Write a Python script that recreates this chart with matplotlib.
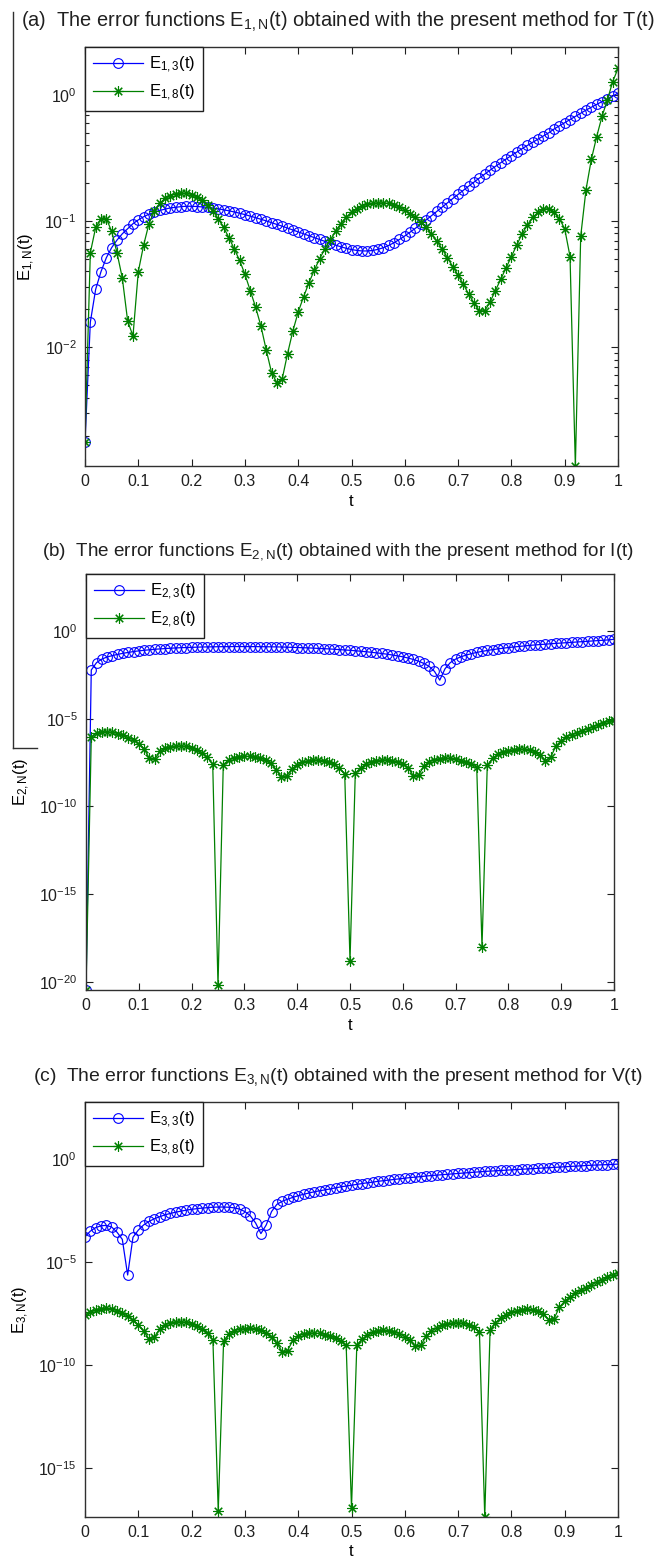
import matplotlib
matplotlib.use("Agg")
import matplotlib.pyplot as plt
from matplotlib.ticker import FixedLocator, NullLocator, LogLocator, LogFormatterSciNotation
from matplotlib.lines import Line2D
import numpy as np

plt.rcParams["font.family"] = ["Liberation Sans", "DejaVu Sans"]
plt.rcParams["mathtext.fontset"] = "custom"
plt.rcParams["mathtext.rm"] = "Liberation Sans"
plt.rcParams["mathtext.it"] = "Liberation Sans"
plt.rcParams["mathtext.bf"] = "Liberation Sans:bold"

# t grid, step 0.01
t = np.linspace(0, 1, 101)

# all series given as log10(E)
# (a) T(t)
e13 = [-2.75, -1.80, -1.54, -1.40, -1.29, -1.21, -1.15, -1.10, -1.06, -1.02,
       -0.99, -0.965, -0.945, -0.93, -0.915, -0.905, -0.895, -0.89, -0.885, -0.882,
       -0.882, -0.884, -0.887, -0.891, -0.896, -0.902, -0.91, -0.918, -0.927, -0.937,
       -0.948, -0.96, -0.972, -0.985, -0.998, -1.012, -1.026, -1.04, -1.055, -1.07,
       -1.085, -1.10, -1.115, -1.13, -1.145, -1.16, -1.175, -1.19, -1.203, -1.215,
       -1.225, -1.232, -1.236, -1.236, -1.232, -1.223, -1.21, -1.192, -1.17, -1.145,
       -1.117, -1.087, -1.056, -1.024, -0.99, -0.957, -0.923, -0.889, -0.855, -0.821,
       -0.788, -0.755, -0.722, -0.69, -0.658, -0.627, -0.596, -0.566, -0.537, -0.508,
       -0.48, -0.453, -0.426, -0.40, -0.375, -0.35, -0.325, -0.30, -0.27, -0.245,
       -0.22, -0.195, -0.17, -0.145, -0.12, -0.097, -0.075, -0.053, -0.032, -0.01,
       0.015]
e18 = [-2.75, -1.25, -1.05, -0.98, -0.98, -1.08, -1.25, -1.45, -1.79, -1.91,
       -1.40, -1.19, -1.02, -0.92, -0.86, -0.82, -0.80, -0.785, -0.78, -0.78,
       -0.79, -0.81, -0.83, -0.87, -0.92, -0.98, -1.05, -1.13, -1.22, -1.31,
       -1.42, -1.55, -1.68, -1.83, -2.02, -2.20, -2.28, -2.25, -2.05, -1.87,
       -1.72, -1.60, -1.49, -1.39, -1.30, -1.22, -1.15, -1.08, -1.02, -0.97,
       -0.93, -0.90, -0.88, -0.865, -0.86, -0.855, -0.855, -0.86, -0.87, -0.89,
       -0.91, -0.94, -0.97, -1.01, -1.05, -1.10, -1.16, -1.22, -1.29, -1.36,
       -1.43, -1.50, -1.58, -1.65, -1.71, -1.71, -1.64, -1.55, -1.46, -1.37,
       -1.28, -1.19, -1.10, -1.03, -0.97, -0.93, -0.905, -0.90, -0.93, -0.98,
       -1.06, -1.28, -2.94, -1.12, -0.75, -0.51, -0.33, -0.17, -0.04, 0.105,
       0.21]

# (b) I(t)
e23 = [-20.46, -2.22, -1.80, -1.60, -1.48, -1.40, -1.33, -1.27, -1.22, -1.17,
       -1.13, -1.10, -1.07, -1.04, -1.02, -1.00, -0.98, -0.965, -0.95, -0.94,
       -0.93, -0.92, -0.91, -0.905, -0.90, -0.895, -0.89, -0.89, -0.885, -0.885,
       -0.885, -0.885, -0.89, -0.89, -0.895, -0.90, -0.905, -0.91, -0.92, -0.93,
       -0.94, -0.95, -0.96, -0.975, -0.99, -1.005, -1.02, -1.04, -1.06, -1.08,
       -1.10, -1.125, -1.15, -1.18, -1.21, -1.245, -1.28, -1.32, -1.365, -1.415,
       -1.47, -1.54, -1.62, -1.72, -1.85, -2.02, -2.30, -2.80, -2.15, -1.80,
       -1.60, -1.47, -1.37, -1.29, -1.22, -1.16, -1.11, -1.06, -1.02, -0.98,
       -0.94, -0.91, -0.88, -0.85, -0.82, -0.795, -0.77, -0.75, -0.725, -0.705,
       -0.685, -0.665, -0.645, -0.625, -0.605, -0.585, -0.565, -0.545, -0.525, -0.505,
       -0.47]
e28 = [-20.46, -6.05, -5.80, -5.74, -5.74, -5.78, -5.85, -5.95, -6.07, -6.22,
       -6.42, -6.72, -7.25, -7.30, -6.85, -6.68, -6.60, -6.56, -6.55, -6.58,
       -6.66, -6.78, -6.95, -7.20, -7.60, -20.2, -7.62, -7.35, -7.22, -7.16,
       -7.14, -7.14, -7.17, -7.24, -7.36, -7.55, -7.90, -8.30, -8.25, -7.85,
       -7.62, -7.48, -7.40, -7.36, -7.35, -7.38, -7.46, -7.60, -7.82, -8.15,
       -18.8, -8.12, -7.80, -7.58, -7.45, -7.38, -7.35, -7.35, -7.38, -7.45,
       -7.58, -7.78, -8.25, -8.20, -7.70, -7.45, -7.33, -7.27, -7.25, -7.26,
       -7.30, -7.38, -7.48, -7.60, -7.75, -18.0, -7.65, -7.25, -7.03, -6.90,
       -6.82, -6.76, -6.74, -6.74, -6.78, -6.88, -7.05, -7.38, -7.20, -6.55,
       -6.25, -6.05, -5.90, -5.80, -5.70, -5.58, -5.46, -5.35, -5.25, -5.15,
       -5.07]

# (c) V(t)
e33 = [-3.77, -3.50, -3.33, -3.24, -3.22, -3.30, -3.55, -3.90, -5.63, -3.80,
       -3.45, -3.20, -3.03, -2.90, -2.80, -2.71, -2.64, -2.58, -2.53, -2.48,
       -2.44, -2.41, -2.38, -2.36, -2.34, -2.33, -2.33, -2.34, -2.37, -2.43,
       -2.55, -2.75, -3.10, -3.62, -3.20, -2.55, -2.20, -2.05, -1.95, -1.86,
       -1.78, -1.71, -1.65, -1.59, -1.54, -1.50, -1.45, -1.40, -1.35, -1.31,
       -1.27, -1.23, -1.19, -1.15, -1.12, -1.08, -1.05, -1.02, -0.99, -0.96,
       -0.93, -0.90, -0.875, -0.85, -0.825, -0.80, -0.78, -0.76, -0.74, -0.72,
       -0.70, -0.68, -0.66, -0.64, -0.62, -0.60, -0.585, -0.57, -0.555, -0.54,
       -0.525, -0.51, -0.495, -0.48, -0.465, -0.45, -0.435, -0.42, -0.405, -0.39,
       -0.375, -0.36, -0.345, -0.33, -0.315, -0.30, -0.29, -0.28, -0.27, -0.26,
       -0.245]
e38 = [-7.57, -7.45, -7.34, -7.27, -7.25, -7.28, -7.36, -7.48, -7.63, -7.82,
       -8.05, -8.35, -8.75, -8.65, -8.25, -8.05, -7.95, -7.90, -7.90, -7.93,
       -8.00, -8.10, -8.25, -8.45, -8.80, -17.09, -8.85, -8.50, -8.35, -8.27,
       -8.23, -8.22, -8.25, -8.32, -8.45, -8.65, -8.95, -9.35, -9.30, -8.80,
       -8.60, -8.50, -8.46, -8.45, -8.47, -8.52, -8.60, -8.70, -8.85, -9.05,
       -16.93, -9.03, -8.75, -8.55, -8.42, -8.35, -8.32, -8.33, -8.38, -8.48,
       -8.62, -8.80, -9.10, -9.05, -8.60, -8.35, -8.20, -8.08, -8.00, -7.96,
       -7.95, -7.98, -8.05, -8.17, -8.38, -17.38, -8.30, -7.95, -7.72, -7.57,
       -7.45, -7.37, -7.32, -7.30, -7.32, -7.38, -7.50, -7.80, -7.75, -7.20,
       -6.90, -6.70, -6.52, -6.38, -6.25, -6.10, -5.98, -5.86, -5.75, -5.63,
       -5.52]

xticks = [0, 0.1, 0.2, 0.3, 0.4, 0.5, 0.6, 0.7, 0.8, 0.9, 1]
xticklabels = ['0', '0.1', '0.2', '0.3', '0.4', '0.5', '0.6', '0.7', '0.8', '0.9', '1']

panels = [
    # idx, title, blue, green, ylim exponents, y ticks, minor ticks, box px, title baseline, title size
    ('1', r'(a)  The error functions E$_{1,N}$(t) obtained with the present method for T(t)',
     e13, e18, (-2.94, 0.38), [1e-2, 1e-1, 1e0], True,
     [85, 47, 618, 466], 27, 14.4),
    ('2', r'(b)  The error functions E$_{2,N}$(t) obtained with the present method for I(t)',
     e23, e28, (-20.46, 3.25), [1e-20, 1e-15, 1e-10, 1e-5, 1e0], False,
     [86, 574, 614, 990], 555, 13.6),
    ('3', r'(c)  The error functions E$_{3,N}$(t) obtained with the present method for V(t)',
     e33, e38, (-17.38, 2.77), [1e-15, 1e-10, 1e-5, 1e0], False,
     [85, 1102, 618, 1517], 1081, 13.9),
]

W, H = 660, 1558
fig = plt.figure(figsize=(W / 100, H / 100), dpi=100)

blue = (0, 0, 1)
green = (0, 0.5, 0)
star = (8, 2, 0)

for k, title, eb, eg, ylim, yt, minor, box, ty, tsize in panels:
    l, tp, r, b = box
    ax = fig.add_axes([l / W, 1 - b / H, (r - l) / W, (b - tp) / H])
    ax.semilogy(t, 10.0 ** np.array(eb), '-', color=blue, lw=0.9, marker='o',
                ms=7, mfc='none', mew=0.8, label=r'E$_{%s,3}$(t)' % k)
    ax.semilogy(t, 10.0 ** np.array(eg), '-', color=green, lw=0.9, marker=star,
                ms=7.5, mew=0.8, label=r'E$_{%s,8}$(t)' % k)
    ax.set_xlim(0, 1)
    ax.set_ylim(10.0 ** ylim[0], 10.0 ** ylim[1])
    ax.set_xticks(xticks)
    ax.set_xticklabels(xticklabels)
    ax.yaxis.set_major_locator(FixedLocator(yt))
    ax.yaxis.set_major_formatter(LogFormatterSciNotation())
    if minor:
        ax.yaxis.set_minor_locator(LogLocator(base=10, subs=np.arange(2, 10)))
    else:
        ax.yaxis.set_minor_locator(NullLocator())
    ax.tick_params(which='both', direction='in', top=True, right=True,
                   labelsize=11.5, colors='#202020', width=0.8)
    ax.tick_params(which='major', length=5, pad=6)
    ax.tick_params(which='minor', length=3)
    for s in ax.spines.values():
        s.set_linewidth(1.0)
        s.set_color('#303030')
    ax.set_xlabel('t', fontsize=12, labelpad=3)
    ax.set_ylabel(r'E$_{%s,N}$(t)' % k, fontsize=12, labelpad=5)
    leg = ax.legend(loc='upper left', borderaxespad=0, fancybox=False,
                    edgecolor='#202020', framealpha=1, fontsize=12,
                    handlelength=3.0, handletextpad=0.4, borderpad=0.45,
                    labelspacing=0.5)
    leg.get_frame().set_linewidth(1.0)
    fig.text(338 / W, 1 - ty / H, title, ha='center', va='baseline',
             fontsize=tsize, color='#202020')

# scan border on the left
fig.add_artist(Line2D([13 / W, 13 / W], [1 - 12 / H, 1 - 748 / H],
                      color='#303030', lw=1.0))
fig.add_artist(Line2D([13 / W, 37 / W], [1 - 748 / H, 1 - 748 / H],
                      color='#303030', lw=1.0))

plt.savefig('out.png', dpi=100)
